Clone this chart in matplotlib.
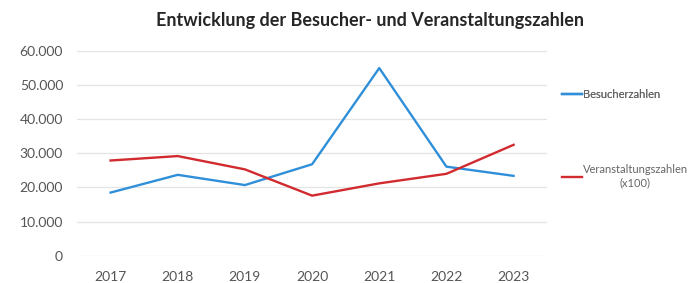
import matplotlib
matplotlib.use("Agg")
import matplotlib.pyplot as plt
from matplotlib.ticker import FuncFormatter

jahre = ["2017", "2018", "2019", "2020", "2021", "2022", "2023"]
besucher = [18500, 23700, 20700, 26800, 55000, 26100, 23400]
veranstaltungen = [27900, 29200, 25300, 17600, 21200, 24000, 32500]  # x100

plt.rcParams["font.family"] = ["Lato", "DejaVu Sans"]

fig = plt.figure(figsize=(6.9, 2.83), dpi=100)
ax = fig.add_axes([0.1116, 0.0965, 0.6814, 0.7233])

x = range(len(jahre))
l1, = ax.plot(x, besucher, color="#2f8fd8", lw=1.7, label="Besucherzahlen")
l2, = ax.plot(x, veranstaltungen, color="#d12a2f", lw=1.7,
              label="Veranstaltungszahlen\n(x100)")

ax.set_xlim(-0.5, len(jahre) - 0.5)
ax.set_ylim(0, 60000)
ax.set_yticks(range(0, 60001, 10000))
ax.yaxis.set_major_formatter(FuncFormatter(lambda v, p: f"{int(v):,}".replace(",", ".")))
ax.set_xticks(list(x))
ax.set_xticklabels(jahre)
ax.grid(axis="y", color="#e4e4e4", lw=0.9)
ax.set_axisbelow(True)
for s in ax.spines.values():
    s.set_visible(False)
ax.tick_params(length=0, labelsize=10, colors="#555555")
ax.tick_params(axis="x", pad=11)
ax.tick_params(axis="y", pad=10)

fig.text(0.536, 0.928, "Entwicklung der Besucher- und Veranstaltungszahlen",
         ha="center", va="center", fontsize=13, fontweight="bold", color="#262626")

# legend entries on the right
leg1 = fig.legend(handles=[l1], loc="center left", bbox_to_anchor=(0.814, 0.665),
                  frameon=False, fontsize=8, handlelength=1.8, handletextpad=0.1,
                  borderpad=0, borderaxespad=0, labelcolor="#666666")
fig.add_artist(leg1)
leg2 = fig.legend(handles=[l2], loc="upper left", bbox_to_anchor=(0.814, 0.419),
                  frameon=False, fontsize=8, handlelength=1.8, handletextpad=0.1,
                  borderpad=0, borderaxespad=0, labelcolor="#666666")
for t in leg2.get_texts():
    t.set_multialignment("center")

fig.savefig("out.png", dpi=100)
